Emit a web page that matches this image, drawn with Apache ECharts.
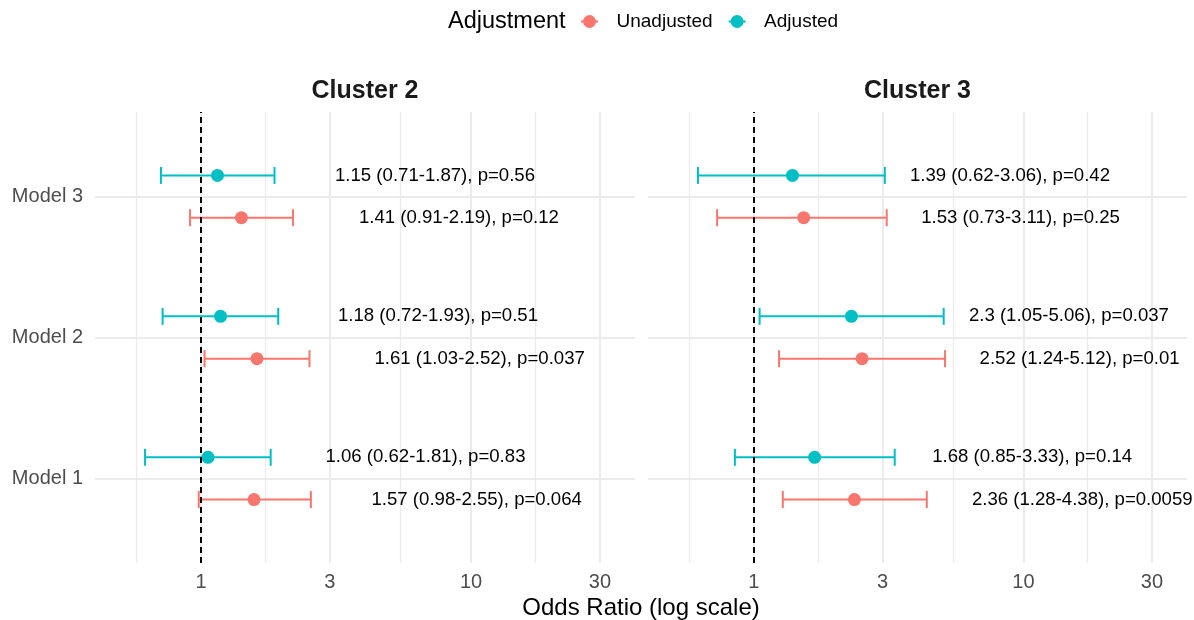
<!DOCTYPE html>
<html>
<head>
<meta charset="utf-8">
<script src="https://cdn.jsdelivr.net/npm/echarts@6/dist/echarts.min.js"></script>
<style>
  html, body { margin: 0; padding: 0; background: #fff; }
  #forest_chart { width: 1194px; height: 620px; }
</style>
</head>
<body>
<div id="forest_chart"></div>
<script>
// 모델 / 눈금
var models = ['Model 1', 'Model 2', 'Model 3'];
var xTickLabels = [1, 3, 10, 30];

// Cluster 2
var c2AdjOR = [1.06, 1.18, 1.15];
var c2AdjLo = [0.62, 0.72, 0.71];
var c2AdjHi = [1.81, 1.93, 1.87];
var c2AdjP  = [0.83, 0.51, 0.56];
var c2UnOR  = [1.57, 1.61, 1.41];
var c2UnLo  = [0.98, 1.03, 0.91];
var c2UnHi  = [2.55, 2.52, 2.19];
var c2UnP   = [0.064, 0.037, 0.12];

// Cluster 3
var c3AdjOR = [1.68, 2.3, 1.39];
var c3AdjLo = [0.85, 1.05, 0.62];
var c3AdjHi = [3.33, 5.06, 3.06];
var c3AdjP  = [0.14, 0.037, 0.42];
var c3UnOR  = [2.36, 2.52, 1.53];
var c3UnLo  = [1.28, 1.24, 0.73];
var c3UnHi  = [4.38, 5.12, 3.11];
var c3UnP   = [0.0059, 0.01, 0.25];

var FONT = '"Liberation Sans", Arial, sans-serif';
var RED = '#F8766D';
var TEAL = '#00BFC4';
var GRID_COLOR = '#EBEBEB';
var xMin = -0.393, xMax = 1.607;   // log10 범위
var dodge = 0.15;

var majorX = xTickLabels.map(function (v) { return Math.log10(v); });
// minor grid: halfway between majors (one extra below the first)
var minorX = [];
majorX.forEach(function (v, i) {
    if (i === 0) minorX.push(v - (majorX[1] - majorX[0]) / 2);
    if (i < majorX.length - 1) minorX.push((v + majorX[i + 1]) / 2);
});
var modelPos = models.map(function (m, i) { return i + 1; });

var keyIcon = 'path://M0,5.5 L17,5.5 L17,7.5 L0,7.5 Z M2,6.5 A6.5,6.5 0 1,1 15,6.5 A6.5,6.5 0 1,1 2,6.5 Z';

function makeXAxes(gridIndex) {
    return [{
        type: 'value', gridIndex: gridIndex, min: xMin, max: xMax,
        axisLine: { show: false },
        axisTick: { show: false, customValues: majorX },
        axisLabel: {
            customValues: majorX,
            formatter: function (v) { return String(Math.round(Math.pow(10, v))); },
            color: '#4D4D4D', fontSize: 20, fontFamily: FONT, margin: 9
        },
        splitLine: { show: true, lineStyle: { color: GRID_COLOR, width: 2 } }
    }, {
        type: 'value', gridIndex: gridIndex, min: xMin, max: xMax,
        axisLine: { show: false },
        axisTick: { show: false, customValues: minorX },
        axisLabel: { show: false },
        splitLine: { show: true, lineStyle: { color: GRID_COLOR, width: 1.2 } }
    }];
}

function makeYAxis(gridIndex, showLabels) {
    return {
        type: 'value', gridIndex: gridIndex, min: 0.4, max: 3.6,
        axisLine: { show: false },
        axisTick: { show: false, customValues: modelPos },
        axisLabel: {
            show: showLabels,
            customValues: modelPos,
            formatter: function (v) { return models[Math.round(v) - 1]; },
            color: '#4D4D4D', fontSize: 20, fontFamily: FONT, margin: 12
        },
        splitLine: { show: true, lineStyle: { color: GRID_COLOR, width: 2 } }
    };
}

// 에러바 (custom)
function errorSeries(name, color, xi, yi, lo, hi, shift) {
    return {
        name: name, type: 'custom', xAxisIndex: xi, yAxisIndex: yi, z: 2,
        itemStyle: { color: color },
        data: lo.map(function (v, i) { return [Math.log10(v), Math.log10(hi[i]), modelPos[i] + shift]; }),
        renderItem: function (params, api) {
            var a = api.coord([api.value(0), api.value(2)]);
            var b = api.coord([api.value(1), api.value(2)]);
            var h = 8.5;
            var st = { stroke: color, lineWidth: 2 };
            return {
                type: 'group',
                children: [
                    { type: 'line', shape: { x1: a[0], y1: a[1], x2: b[0], y2: b[1] }, style: st },
                    { type: 'line', shape: { x1: a[0], y1: a[1] - h, x2: a[0], y2: a[1] + h }, style: st },
                    { type: 'line', shape: { x1: b[0], y1: b[1] - h, x2: b[0], y2: b[1] + h }, style: st }
                ]
            };
        }
    };
}

// 점 + 텍스트
function pointSeries(name, color, xi, yi, or, lo, hi, p, shift) {
    return {
        name: name, type: 'scatter', xAxisIndex: xi, yAxisIndex: yi, z: 3,
        symbol: 'circle', symbolSize: 13,
        itemStyle: { color: color, opacity: 1 },
        data: or.map(function (v, i) { return [Math.log10(v), modelPos[i] + shift]; }),
        label: {
            show: true, position: 'right', distance: 111,
            color: '#000', fontSize: 18.6, fontFamily: FONT,
            formatter: function (params) {
                var i = params.dataIndex;
                return or[i] + ' (' + lo[i] + '-' + hi[i] + '), p=' + p[i];
            }
        }
    };
}

// 기준선 OR = 1
function refLine(xi, yi) {
    return {
        name: 'ref', type: 'scatter', xAxisIndex: xi, yAxisIndex: yi, z: 4,
        data: [],
        markLine: {
            silent: true, animation: false,
            symbol: ['none', 'none'],
            label: { show: false },
            lineStyle: { color: '#000', type: [6, 4], width: 2 },
            data: [{ xAxis: 0 }]
        }
    };
}

var myChart = echarts.init(document.getElementById('forest_chart'));
var option = {
    animation: false,
    backgroundColor: '#fff',
    textStyle: { fontFamily: FONT },
    grid: [
        { left: 95, top: 112, width: 540, height: 451 },
        { left: 648, top: 112, width: 539, height: 451 }
    ],
    xAxis: makeXAxes(0).concat(makeXAxes(1)),
    yAxis: [makeYAxis(0, true), makeYAxis(1, false)],
    legend: {
        left: 576, top: 7, itemWidth: 44, itemHeight: 13, itemGap: 16,
        selectedMode: false,
        textStyle: { fontSize: 19, color: '#000', fontFamily: FONT },
        data: [{ name: 'Unadjusted', icon: keyIcon }, { name: 'Adjusted', icon: keyIcon }]
    },
    graphic: [
        { type: 'text', x: 448, y: 22, style: { text: 'Adjustment', fill: '#000', fontSize: 23.5, fontFamily: FONT, verticalAlign: 'middle' } },
        { type: 'text', x: 365, y: 91, style: { text: 'Cluster 2', fill: '#1A1A1A', fontSize: 25, fontWeight: 'bold', fontFamily: FONT, align: 'center', verticalAlign: 'middle' } },
        { type: 'text', x: 917.5, y: 91, style: { text: 'Cluster 3', fill: '#1A1A1A', fontSize: 25, fontWeight: 'bold', fontFamily: FONT, align: 'center', verticalAlign: 'middle' } },
        { type: 'text', x: 641, y: 608, style: { text: 'Odds Ratio (log scale)', fill: '#000', fontSize: 24, fontFamily: FONT, align: 'center', verticalAlign: 'middle' } }
    ],
    series: [
        pointSeries('Unadjusted', RED, 0, 0, c2UnOR, c2UnLo, c2UnHi, c2UnP, -dodge),
        pointSeries('Adjusted', TEAL, 0, 0, c2AdjOR, c2AdjLo, c2AdjHi, c2AdjP, dodge),
        errorSeries('Unadjusted', RED, 0, 0, c2UnLo, c2UnHi, -dodge),
        errorSeries('Adjusted', TEAL, 0, 0, c2AdjLo, c2AdjHi, dodge),
        refLine(0, 0),
        pointSeries('Unadjusted', RED, 2, 1, c3UnOR, c3UnLo, c3UnHi, c3UnP, -dodge),
        pointSeries('Adjusted', TEAL, 2, 1, c3AdjOR, c3AdjLo, c3AdjHi, c3AdjP, dodge),
        errorSeries('Unadjusted', RED, 2, 1, c3UnLo, c3UnHi, -dodge),
        errorSeries('Adjusted', TEAL, 2, 1, c3AdjLo, c3AdjHi, dodge),
        refLine(2, 1)
    ]
}; // option
myChart.setOption(option);
window.addEventListener('resize', myChart.resize);
</script>
</body>
</html>
